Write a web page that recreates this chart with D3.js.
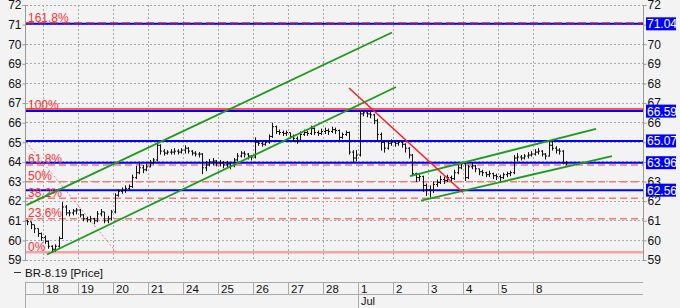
<!DOCTYPE html>
<html><head><meta charset="utf-8">
<script src="https://cdn.jsdelivr.net/npm/d3@7"></script>
<style>body{margin:0;background:#f3f3f3;}svg{display:block;}</style>
</head><body>
<svg id="c" width="680" height="308"></svg>
<script>
// ---- data ----
const dayLabels = ["18","19","20","21","24","25","26","27","28","1","2","3","4","5","8"];
const monthLabels = [{day: 9, text: "Jul"}];
const yTicks = [59,60,61,62,63,64,65,66,67,68,69,70,71,72];
// bars: 10 per trading day, first 5 belong to the previous (partial) day
const closes = [60.95,60.8,60.6,60.35,60.15,
 59.95,59.7,59.55,59.7,60.1,61.7,61.4,61.4,61.5,61.55,
 61.3,61.1,61.05,61.1,61.0,61.35,61.45,61.0,61.1,61.45,
 62.3,62.5,62.55,62.65,62.75,63.2,63.45,63.7,63.6,63.75,
 63.95,64.1,64.85,64.55,64.45,64.5,64.5,64.55,64.5,64.6,
 64.7,64.55,64.45,64.4,64.4,63.7,63.85,64.0,64.05,63.95,
 63.95,63.85,63.9,63.8,64.1,64.3,64.45,64.4,64.3,64.25,
 65.0,64.95,64.9,65.0,65.3,65.8,65.55,65.5,65.45,65.5,
 65.3,65.2,65.1,65.4,65.5,65.45,65.7,65.5,65.45,65.55,
 65.6,65.55,65.65,65.6,65.25,65.4,65.5,64.5,64.2,64.35,
 66.45,66.5,66.45,66.4,66.1,65.4,65.0,64.7,64.95,65.0,
 64.95,65.0,64.9,64.7,64.35,63.4,63.2,63.25,62.8,62.6,
 62.55,62.85,62.95,63.1,63.05,63.2,63.15,63.45,63.7,63.9,
 63.2,63.75,63.8,63.65,63.5,63.45,63.35,63.4,63.3,63.25,
 63.2,63.35,63.4,63.45,64.2,64.25,64.2,64.3,64.35,64.4,
 64.5,64.55,64.4,64.3,64.85,64.7,64.6,64.55,63.95,63.95];
const highs = [61.05,60.95,60.8,60.6,60.4,
 60.25,60.0,59.75,59.8,60.2,61.95,61.8,61.55,61.6,61.65,
 61.6,61.35,61.2,61.25,61.15,61.5,61.6,61.45,61.25,61.55,
 62.4,62.6,62.7,62.8,62.85,63.35,63.8,64.0,63.85,63.9,
 64.1,64.2,65.05,64.9,64.65,64.6,64.65,64.7,64.65,64.7,
 64.85,64.75,64.6,64.55,64.5,64.45,64.05,64.15,64.2,64.1,
 64.1,64.05,64.05,64.0,64.2,64.45,64.55,64.55,64.45,64.35,
 65.25,65.1,65.05,65.1,65.4,66.0,65.85,65.65,65.6,65.6,
 65.5,65.4,65.3,65.55,65.65,65.6,65.85,65.75,65.6,65.7,
 65.75,65.7,65.8,65.75,65.65,65.5,65.6,65.55,64.6,64.6,
 66.59,66.58,66.55,66.55,66.45,66.2,65.5,65.1,65.1,65.15,
 65.1,65.1,65.05,64.95,64.75,64.4,63.45,63.4,63.3,62.9,
 62.8,63.0,63.1,63.3,63.25,63.35,63.3,63.6,63.85,64.0,
 63.95,63.85,63.95,63.85,63.65,63.6,63.5,63.55,63.45,63.4,
 63.35,63.45,63.5,63.55,64.35,64.45,64.35,64.4,64.5,64.55,
 64.65,64.7,64.6,64.45,65.05,65.07,64.8,64.7,64.6,64.05];
const lows = [60.8,60.6,60.4,60.2,60.0,
 59.85,59.6,59.4,59.45,59.65,60.1,61.3,61.25,61.3,61.35,
 61.2,61.0,60.95,60.95,60.85,60.95,61.25,60.9,60.9,61.05,
 61.4,62.25,62.4,62.45,62.6,62.7,63.15,63.4,63.45,63.55,
 63.75,63.9,64.05,64.4,64.35,64.4,64.4,64.4,64.4,64.45,
 64.45,64.45,64.35,64.3,64.25,63.4,63.55,63.8,63.85,63.8,
 63.8,63.7,63.75,63.65,63.75,64.05,64.25,64.25,64.15,64.1,
 64.2,64.85,64.8,64.85,64.95,65.25,65.45,65.4,65.35,65.35,
 65.2,65.05,64.95,65.05,65.35,65.35,65.4,65.4,65.35,65.4,
 65.45,65.4,65.5,65.45,65.1,65.2,65.35,64.4,64.0,64.05,
 64.3,66.35,66.3,66.25,65.95,65.1,64.6,64.5,64.65,64.85,
 64.8,64.85,64.75,64.5,64.2,63.3,63.0,63.05,62.5,62.3,
 62.2,62.45,62.75,62.9,62.9,63.0,63.0,63.1,63.4,63.65,
 63.05,63.15,63.65,63.5,63.35,63.3,63.25,63.25,63.15,63.1,
 63.05,63.15,63.25,63.3,63.4,64.05,64.1,64.15,64.2,64.3,
 64.35,64.4,64.3,64.15,64.3,64.6,64.45,64.4,63.9,63.85];
const firstOpen = 61.0;
// horizontal levels (blue) and fibonacci retracement
const levels = [71.04, 66.59, 65.07, 63.96, 62.56];
const fibLow = 59.4, fibHigh = 66.59;
const fibRatios = [0, 0.236, 0.382, 0.5, 0.618, 1, 1.618];
const fibNames = ["0%","23.6%","38.2%","50%","61.8%","100%","161.8%"];
// trend lines: [day, price] endpoints
const greenLines = [
  [[-0.471, 61.80], [9.971, 70.60]],
  [[0.114, 59.28], [10.086, 67.82]],
  [[10.486, 63.28], [15.8, 65.68]],
  [[10.8, 62.03], [16.257, 64.30]]
];
const redLine = [[8.743, 67.77], [12.0, 62.44]];
const fibBaseLine = [[-0.486, 65.02], [2.114, 59.36]];

// ---- drawing ----
const svg = d3.select("#c");
const x = d3.scaleLinear().domain([-0.4857, 17.1429]).range([26, 643]);
const y = d3.scaleLinear().domain([59, 72]).range([260, 5]);
const FONT = "'Liberation Sans', Arial, sans-serif";

svg.append("rect").attr("width",680).attr("height",308).attr("fill","#f3f3f3");

// grid
svg.append("g").selectAll("line").data(yTicks).join("line")
  .attr("x1",26).attr("x2",643).attr("y1",d=>y(d)).attr("y2",d=>y(d))
  .attr("stroke","#a8a8a8").attr("stroke-dasharray","2,2").attr("shape-rendering","crispEdges");
svg.append("g").selectAll("line").data(dayLabels.map((d,i)=>i)).join("line")
  .attr("x1",d=>Math.round(x(d))+0.5).attr("x2",d=>Math.round(x(d))+0.5).attr("y1",5).attr("y2",260)
  .attr("stroke","#a8a8a8").attr("stroke-dasharray","2,2");

// axes lines
svg.append("line").attr("x1",25.5).attr("x2",25.5).attr("y1",5).attr("y2",261).attr("stroke","#999");
svg.append("line").attr("x1",643.5).attr("x2",643.5).attr("y1",5).attr("y2",261).attr("stroke","#999");

// left axis
const yAxisL = d3.axisLeft(y).tickValues(yTicks).tickSize(3).tickFormat(d3.format("d"));
const gl = svg.append("g").attr("transform","translate(25.5,0)").call(yAxisL);
gl.select(".domain").remove();
gl.selectAll("line").attr("stroke","#999");
gl.selectAll("text").attr("font-family",FONT).attr("font-size",12).attr("fill","#111").attr("x",-4);
// right axis (labels hidden where a level box sits on top)
const rightTicks = yTicks.filter(t => !levels.some(l => Math.abs(l - t) < 0.3));
const yAxisR = d3.axisRight(y).tickValues(yTicks).tickSize(3)
  .tickFormat(d => rightTicks.includes(d) ? d3.format("d")(d) : "");
const gr = svg.append("g").attr("transform","translate(643.5,0)").call(yAxisR);
gr.select(".domain").remove();
gr.selectAll("line").attr("stroke","#999");
gr.selectAll("text").attr("font-family",FONT).attr("font-size",12).attr("fill","#111").attr("x",4);

// fibonacci levels
const fib = fibRatios.map((r,i)=>({r, name: fibNames[i], v: fibLow + r*(fibHigh-fibLow)}));
const fg = svg.append("g");
fib.forEach(f=>{
  const yy = y(f.v);
  if (f.r === 0) {
    fg.append("line").attr("x1",26).attr("x2",643).attr("y1",yy).attr("y2",yy)
      .attr("stroke","#f4a4a4").attr("stroke-width",2.5);
  } else if (f.r === 1) {
    fg.append("line").attr("x1",26).attr("x2",643).attr("y1",yy-2).attr("y2",yy-2)
      .attr("stroke","#ff2020").attr("stroke-width",1.5);
  } else if (f.r < 1) {
    fg.append("line").attr("x1",26).attr("x2",643).attr("y1",yy).attr("y2",yy)
      .attr("stroke","#f27a7a").attr("stroke-width",1.5).attr("stroke-dasharray","7,4");
  }
});

// fib base thin dotted line
svg.append("line").attr("x1",x(fibBaseLine[0][0])).attr("y1",y(fibBaseLine[0][1]))
  .attr("x2",x(fibBaseLine[1][0])).attr("y2",y(fibBaseLine[1][1]))
  .attr("stroke","#f06060").attr("stroke-width",0.8).attr("stroke-dasharray","2,2");

// blue levels
svg.append("g").selectAll("line").data(levels).join("line")
  .attr("x1",26).attr("x2",643).attr("y1",d=>y(d)).attr("y2",d=>y(d))
  .attr("stroke","#0000ff").attr("stroke-width",2);

// 161.8% dashed red over blue
fib.filter(f=>f.r>1).forEach(f=>{
  const yy = y(f.v)-1;
  svg.append("line").attr("x1",26).attr("x2",643).attr("y1",yy).attr("y2",yy)
    .attr("stroke","#e03030").attr("stroke-width",1.2).attr("stroke-dasharray","8,4");
});

// fib labels
svg.append("g").selectAll("text").data(fib).join("text")
  .attr("x",28).attr("y",d=>y(d.v)-(d.r===1?2.5:1.5))
  .attr("font-family",FONT).attr("font-size",12).attr("fill","#ff3030")
  .text(d=>d.name);

// price bars (OHLC)
const bars = closes.map((c,j)=>{
  const o = j===0 ? firstOpen : closes[j-1];
  return {d: -0.5 + (j+0.5)/10, o, c, h: Math.max(highs[j],o,c), l: Math.min(lows[j],o,c)};
});
const bg = svg.append("g").attr("stroke","#111").attr("stroke-width",1);
bars.forEach(b=>{
  const xx = Math.round(x(b.d))+0.5;
  bg.append("line").attr("x1",xx).attr("x2",xx).attr("y1",y(b.h)).attr("y2",y(b.l)+0.5);
  bg.append("line").attr("x1",xx-1.5).attr("x2",xx).attr("y1",y(b.o)).attr("y2",y(b.o));
  bg.append("line").attr("x1",xx).attr("x2",xx+1.5).attr("y1",y(b.c)).attr("y2",y(b.c));
});

// trend lines
svg.append("g").selectAll("line").data(greenLines).join("line")
  .attr("x1",d=>x(d[0][0])).attr("y1",d=>y(d[0][1])).attr("x2",d=>x(d[1][0])).attr("y2",d=>y(d[1][1]))
  .attr("stroke","#1e9a1e").attr("stroke-width",1.8);
svg.append("line").attr("x1",x(redLine[0][0])).attr("y1",y(redLine[0][1]))
  .attr("x2",x(redLine[1][0])).attr("y2",y(redLine[1][1]))
  .attr("stroke","#ff1a1a").attr("stroke-width",1.5);

// blue value labels on right
const lg = svg.append("g").selectAll("g").data(levels).join("g")
  .attr("transform",d=>`translate(646,${y(d)})`);
lg.append("rect").attr("x",0).attr("y",-6.5).attr("width",30).attr("height",13).attr("fill","#0000ff");
lg.append("text").attr("x",1).attr("y",4.5).attr("font-family",FONT).attr("font-size",12)
  .attr("fill","#fff").text(d=>d.toFixed(2));

// legend
svg.append("line").attr("x1",14).attr("x2",21).attr("y1",272.5).attr("y2",272.5).attr("stroke","#333");
svg.append("text").attr("x",25).attr("y",276.5).attr("font-family",FONT).attr("font-size",11.5)
  .attr("fill","#111").text("BR-8.19 [Price]");

// date axis
const da = svg.append("g");
da.append("line").attr("x1",25).attr("x2",643).attr("y1",282.5).attr("y2",282.5).attr("stroke","#aaa");
da.append("line").attr("x1",25).attr("x2",643).attr("y1",294.5).attr("y2",294.5).attr("stroke","#aaa");
da.append("line").attr("x1",25.5).attr("x2",25.5).attr("y1",282).attr("y2",308).attr("stroke","#aaa");
da.selectAll("line.sep").data(dayLabels).join("line").attr("class","sep")
  .attr("x1",(d,i)=>Math.round(x(i))+0.5).attr("x2",(d,i)=>Math.round(x(i))+0.5)
  .attr("y1",282).attr("y2",294).attr("stroke","#aaa");
da.selectAll("text.day").data(dayLabels).join("text").attr("class","day")
  .attr("x",(d,i)=>x(i)+3).attr("y",293).attr("font-family",FONT).attr("font-size",11.5)
  .attr("fill","#111").text(d=>d);
monthLabels.forEach(m=>{
  da.append("line").attr("x1",Math.round(x(m.day))+0.5).attr("x2",Math.round(x(m.day))+0.5)
    .attr("y1",294).attr("y2",308).attr("stroke","#aaa");
  da.append("text").attr("x",x(m.day)+3).attr("y",305).attr("font-family",FONT).attr("font-size",11)
    .attr("fill","#111").text(m.text);
});
</script>
</body></html>
